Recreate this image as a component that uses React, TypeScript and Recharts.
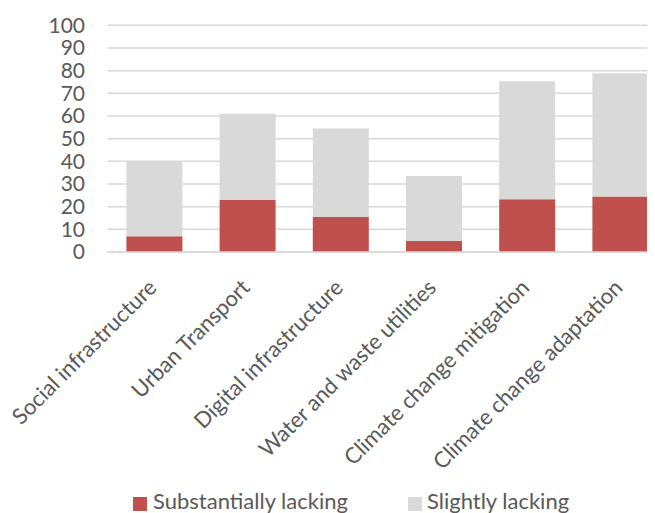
import React from "react";
import { BarChart, Bar, XAxis, YAxis, CartesianGrid, Legend } from "recharts";

const categories = [
  "Social infrastructure",
  "Urban Transport",
  "Digital infrastructure",
  "Water and waste utilities",
  "Climate change mitigation",
  "Climate change adaptation",
];
const substantiallyLacking = [7, 23, 15.5, 5, 23.3, 24.5];
const slightlyLacking = [33, 38, 39, 28.5, 52, 54.3];
const yTicks = [0, 10, 20, 30, 40, 50, 60, 70, 80, 90, 100];
const seriesNames = ["Substantially lacking", "Slightly lacking"];

const data = categories.map((c, i) => ({
  name: c,
  sub: substantiallyLacking[i],
  slight: slightlyLacking[i],
}));

const FONT = "Lato, 'Open Sans', sans-serif";
const RED = "#C0504D";
const GRAY = "#D9D9D9";
const TEXT = "#595959";

const YTick = (props: any) => {
  const { y, payload } = props;
  return (
    <text x={77} y={y} dy="0.35em" textAnchor="end" fill={TEXT} fontSize={21} fontFamily={FONT}>
      {payload.value}
    </text>
  );
};

const XTick = (props: any) => {
  const { x, y, payload } = props;
  const ax = x + 4;
  const ay = y + 29;
  return (
    <text
      x={ax}
      y={ay}
      textAnchor="end"
      fill={TEXT}
      fontSize={22}
      fontFamily={FONT}
      transform={`rotate(-45 ${ax} ${ay})`}
    >
      {payload.value}
    </text>
  );
};

const LegendContent = () => (
  <div style={{ position: "relative", height: 30, fontFamily: FONT, fontSize: 22, color: TEXT }}>
    <div style={{ position: "absolute", left: 125, top: 6, width: 14, height: 14, background: RED }} />
    <div style={{ position: "absolute", left: 145, top: -3, lineHeight: "26px", whiteSpace: "nowrap" }}>{seriesNames[0]}</div>
    <div style={{ position: "absolute", left: 400, top: 6, width: 14, height: 14, background: GRAY }} />
    <div style={{ position: "absolute", left: 419, top: -3, lineHeight: "26px", whiteSpace: "nowrap" }}>{seriesNames[1]}</div>
  </div>
);

export default function App() {
  return (
    <div style={{ width: 647, height: 505, overflow: "hidden", position: "relative" }}>
      <BarChart
        width={700}
        height={513}
        data={data}
        margin={{ top: 17.3, right: 41.4, left: 0, bottom: 0 }}
      >
        <CartesianGrid vertical={false} stroke={GRAY} strokeWidth={1.5} />
        <XAxis
          dataKey="name"
          interval={0}
          height={239}
          tick={<XTick />}
          tickLine={false}
          axisLine={{ stroke: GRAY, strokeWidth: 1.5 }}
        />
        <YAxis
          width={99.4}
          domain={[0, 100]}
          ticks={yTicks}
          interval={0}
          tick={<YTick />}
          tickLine={false}
          axisLine={false}
        />
        <Legend
          content={<LegendContent />}
          wrapperStyle={{ position: "absolute", left: 0, top: 483, width: 700 }}
        />
        <Bar dataKey="sub" name={seriesNames[0]} stackId="a" fill={RED} barSize={56} isAnimationActive={false} />
        <Bar dataKey="slight" name={seriesNames[1]} stackId="a" fill={GRAY} barSize={56} isAnimationActive={false} />
      </BarChart>
    </div>
  );
}
